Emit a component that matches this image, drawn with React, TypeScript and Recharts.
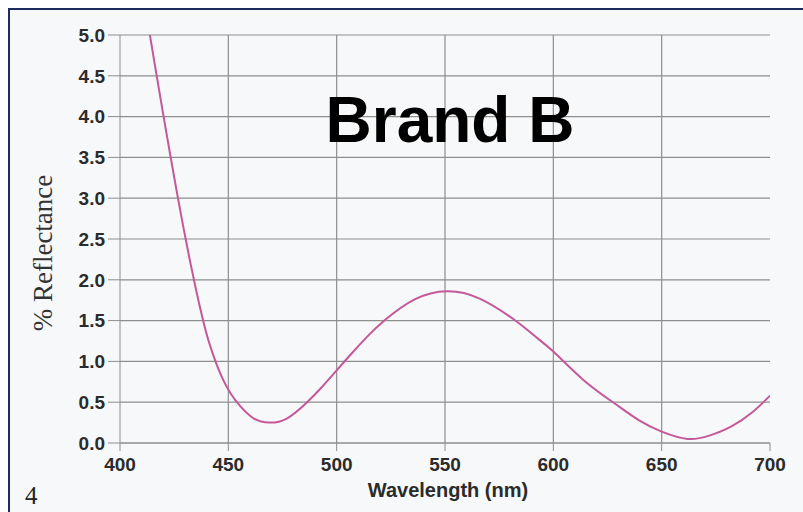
import React from 'react';
import { LineChart, Line, XAxis, YAxis, CartesianGrid } from 'recharts';

// values
const wavelengths = [
  413.8, 417, 420, 423, 426, 429, 432, 435, 438, 441, 444.5, 447.5, 451, 455.7, 461.8,
  468.8, 477, 486, 493, 500, 507, 514, 522, 536, 551, 566, 582, 591, 600, 614, 628, 640,
  650, 662, 672, 682, 692, 700,
];
const reflectance = [
  5.0, 4.49, 4.02, 3.56, 3.11, 2.68, 2.27, 1.89, 1.54, 1.24, 0.97, 0.78, 0.61, 0.445, 0.3,
  0.25, 0.3, 0.49, 0.68, 0.89, 1.1, 1.3, 1.5, 1.76, 1.86, 1.77, 1.51, 1.32, 1.12, 0.77, 0.49, 0.27,
  0.14, 0.05, 0.09, 0.2, 0.38, 0.58,
];
const xTicks = [400, 450, 500, 550, 600, 650, 700];
const yTicks = [0, 0.5, 1, 1.5, 2, 2.5, 3, 3.5, 4, 4.5, 5];

const data = wavelengths.map((w, i) => ({ nm: w, r: reflectance[i] }));

const sans = '"Liberation Sans", Arial, sans-serif';
const serif = '"Liberation Serif", "Times New Roman", serif';
const gridColor = '#8e8e8e';
const tickStyle = { fill: '#2b2b2b', fontSize: 19, fontWeight: 700, fontFamily: sans };

export default function App() {
  return (
    <div style={{ position: 'absolute', left: 0, top: 0, width: 803, height: 512, background: '#fff', overflow: 'hidden' }}>
      <div
        style={{
          position: 'absolute',
          left: 8,
          top: 8,
          width: 795,
          height: 504,
          background: '#f7f8f9',
          borderLeft: '2px solid #1d2b5f',
          borderTop: '2px solid #1d2b5f',
          boxSizing: 'border-box',
        }}
      />
      <div style={{ position: 'absolute', left: 0, top: 0 }}>
        <LineChart width={803} height={512} data={data} margin={{ top: 35, right: 33, bottom: 39, left: 60 }}>
          <CartesianGrid
            stroke={gridColor}
            strokeWidth={1.2}
            verticalValues={[450, 500, 550, 600, 650]}
            horizontalValues={yTicks}
          />
          <XAxis
            dataKey="nm"
            type="number"
            domain={[400, 700]}
            ticks={xTicks}
            allowDataOverflow
            stroke={gridColor}
            tickSize={8}
            tickMargin={7}
            height={30}
            tick={tickStyle}
          />
          <YAxis
            type="number"
            domain={[0, 5]}
            ticks={yTicks}
            allowDataOverflow
            stroke={gridColor}
            tickSize={12}
            tickMargin={3}
            width={60}
            tick={tickStyle}
            tickFormatter={(v: number) => v.toFixed(1)}
          />
          <Line
            type="natural"
            dataKey="r"
            stroke="#c4589b"
            strokeWidth={2}
            dot={false}
            isAnimationActive={false}
          />
        </LineChart>
      </div>
      <svg width={803} height={512} style={{ position: 'absolute', left: 0, top: 0, pointerEvents: 'none' }}>
        <text x={450} y={142} textAnchor="middle" fontFamily={sans} fontWeight={700} fontSize={64} fill="#000">
          Brand B
        </text>
        <text x={448} y={497} textAnchor="middle" fontFamily={sans} fontWeight={700} fontSize={20} fill="#2b2b2b">
          Wavelength (nm)
        </text>
        <text
          transform="translate(52,253) rotate(-90)"
          textAnchor="middle"
          fontFamily={serif}
          fontSize={27}
          fill="#333"
        >
          % Reflectance
        </text>
        <text x={25} y={504} fontFamily={serif} fontSize={25} fill="#222">
          4
        </text>
      </svg>
    </div>
  );
}
